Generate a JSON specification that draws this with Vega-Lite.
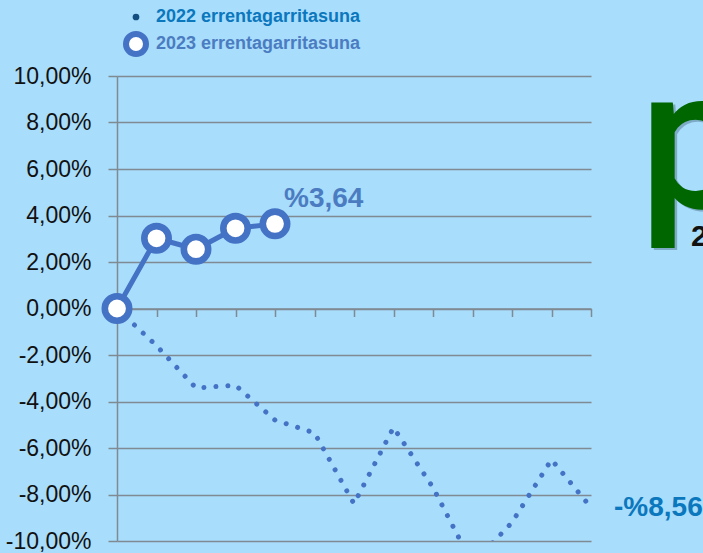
{
  "$schema": "https://vega.github.io/schema/vega-lite/v6.json",
  "width": 474,
  "height": 465,
  "autosize": {"type": "none"},
  "padding": {"left": 117, "top": 76, "right": 112, "bottom": 12},
  "background": "#a8ddfc",
  "config": {"view": {"stroke": null}, "font": "Liberation Sans"},
  "datasets": {
    "series": [
      {"series": "2022 errentagarritasuna", "month": 0, "value": 0},
      {"series": "2022 errentagarritasuna", "month": 1, "value": -1.6},
      {"series": "2022 errentagarritasuna", "month": 2, "value": -3.42},
      {"series": "2022 errentagarritasuna", "month": 3, "value": -3.3},
      {"series": "2022 errentagarritasuna", "month": 4, "value": -4.8},
      {"series": "2022 errentagarritasuna", "month": 5, "value": -5.35},
      {"series": "2022 errentagarritasuna", "month": 6, "value": -8.4},
      {"series": "2022 errentagarritasuna", "month": 7, "value": -5.12},
      {"series": "2022 errentagarritasuna", "month": 8, "value": -7.7},
      {"series": "2022 errentagarritasuna", "month": 9, "value": -11.0},
      {"series": "2022 errentagarritasuna", "month": 10, "value": -9.2},
      {"series": "2022 errentagarritasuna", "month": 11, "value": -6.5},
      {"series": "2022 errentagarritasuna", "month": 12, "value": -8.56},
      {"series": "2023 errentagarritasuna", "month": 0, "value": 0},
      {"series": "2023 errentagarritasuna", "month": 1, "value": 3.02},
      {"series": "2023 errentagarritasuna", "month": 2, "value": 2.55},
      {"series": "2023 errentagarritasuna", "month": 3, "value": 3.45},
      {"series": "2023 errentagarritasuna", "month": 4, "value": 3.64}
    ]
  },
  "data": {"name": "series"},
  "encoding": {
    "x": {
      "field": "month",
      "type": "quantitative",
      "scale": {"domain": [0, 12], "nice": false, "zero": false},
      "axis": {
        "orient": "bottom",
        "offset": -232.5,
        "values": [0, 1, 2, 3, 4, 5, 6, 7, 8, 9, 10, 11, 12],
        "labels": false,
        "title": null,
        "grid": false,
        "domainColor": "#7f8a93",
        "domainWidth": 1.5,
        "tickColor": "#7f8a93",
        "tickSize": 8,
        "tickWidth": 1.5
      }
    },
    "y": {
      "field": "value",
      "type": "quantitative",
      "scale": {"domain": [-10, 10], "nice": false},
      "axis": {
        "values": [-10, -8, -6, -4, -2, 0, 2, 4, 6, 8, 10],
        "title": null,
        "grid": true,
        "gridColor": "#7f8a93",
        "gridWidth": 1.5,
        "domainColor": "#7f8a93",
        "domainWidth": 1.5,
        "tickColor": "#7f8a93",
        "tickSize": 9,
        "tickWidth": 1.5,
        "labelFont": "Liberation Sans",
        "labelFontSize": 23,
        "labelColor": "#111111",
        "labelPadding": 17,
        "labelExpr": "replace(replace(format(datum.value, '.2f'), '.', ','), '\u2212', '-') + '%'"
      }
    }
  },
  "layer": [
    {
      "transform": [{"filter": "datum.series === '2022 errentagarritasuna'"}],
      "mark": {
        "type": "line",
        "clip": true,
        "strokeDash": [0.01, 12],
        "strokeCap": "round",
        "strokeWidth": 5
      },
      "encoding": {
        "color": {
          "field": "series",
          "type": "nominal",
          "scale": {
            "domain": ["2022 errentagarritasuna", "2023 errentagarritasuna"],
            "range": ["#4472c4", "#4472c4"]
          },
          "legend": {
            "title": null,
            "orient": "none",
            "legendX": 10,
            "legendY": -68,
            "padding": 0,
            "symbolType": "circle",
            "symbolSize": 400,
            "symbolStrokeWidth": 6,
            "symbolDash": [],
            "labelFont": "Liberation Sans",
            "labelFontSize": 18,
            "labelFontWeight": "bold",
            "labelOffset": 11,
            "labelLimit": 400,
            "rowPadding": -4,
            "encode": {
              "symbols": {
                "update": {
                  "size": {"signal": "datum.value === '2022 errentagarritasuna' ? 45 : 400"},
                  "fill": {"signal": "datum.value === '2022 errentagarritasuna' ? '#124f80' : '#ffffff'"},
                  "stroke": {"signal": "datum.value === '2022 errentagarritasuna' ? '#124f80' : '#4472c4'"},
                  "strokeWidth": {"signal": "datum.value === '2022 errentagarritasuna' ? 0 : 6"},
                  "strokeDash": {"value": []},
                  "opacity": {"value": 1},
                  "fillOpacity": {"value": 1}
                }
              },
              "labels": {
                "update": {
                  "fill": {"signal": "datum.value === '2022 errentagarritasuna' ? '#0b77bd' : '#4b7cc1'"}
                }
              }
            }
          }
        }
      }
    },
    {
      "transform": [{"filter": "datum.series === '2023 errentagarritasuna'"}],
      "mark": {"type": "line", "strokeWidth": 5},
      "encoding": {
        "color": {"field": "series", "type": "nominal"}
      }
    },
    {
      "transform": [{"filter": "datum.series === '2023 errentagarritasuna'"}],
      "mark": {
        "type": "point",
        "shape": "circle",
        "filled": true,
        "fill": "#ffffff",
        "stroke": "#4472c4",
        "strokeWidth": 6.6,
        "size": 595,
        "opacity": 1
      }
    },
    {
      "data": {"values": [{"month": 4, "value": 3.64, "label": "%3,64"}]},
      "mark": {
        "type": "text",
        "align": "left",
        "baseline": "alphabetic",
        "dx": 9,
        "dy": -17,
        "font": "Liberation Sans",
        "fontSize": 28,
        "fontWeight": "bold",
        "color": "#4b7cc1"
      },
      "encoding": {"text": {"field": "label"}}
    },
    {
      "data": {"values": [{"month": 12, "value": -8.56, "label": "-%8,56"}]},
      "mark": {
        "type": "text",
        "align": "left",
        "baseline": "alphabetic",
        "dx": 23,
        "dy": 8,
        "font": "Liberation Sans",
        "fontSize": 28,
        "fontWeight": "bold",
        "color": "#0b77bd",
        "clip": false
      },
      "encoding": {"text": {"field": "label"}}
    },
    {
      "data": {"values": [{"month": 13.22, "value": 4.34, "label": "p"}]},
      "mark": {
        "type": "text",
        "align": "left",
        "baseline": "alphabetic",
        "dx": 2.5,
        "dy": 2.5,
        "font": "Roboto",
        "fontSize": 198,
        "fontWeight": 500,
        "color": "#1d3b4d",
        "opacity": 0.3
      },
      "encoding": {"text": {"field": "label"}}
    },
    {
      "data": {"values": [{"month": 13.22, "value": 4.34, "label": "p"}]},
      "mark": {
        "type": "text",
        "align": "left",
        "baseline": "alphabetic",
        "font": "Roboto",
        "fontSize": 198,
        "fontWeight": 500,
        "color": "#006600"
      },
      "encoding": {"text": {"field": "label"}}
    },
    {
      "data": {"values": [{"month": 14.53, "value": 2.67, "label": "2022"}]},
      "mark": {
        "type": "text",
        "align": "left",
        "baseline": "alphabetic",
        "font": "Liberation Sans",
        "fontSize": 30,
        "fontWeight": "bold",
        "color": "#111111"
      },
      "encoding": {"text": {"field": "label"}}
    }
  ]
}
